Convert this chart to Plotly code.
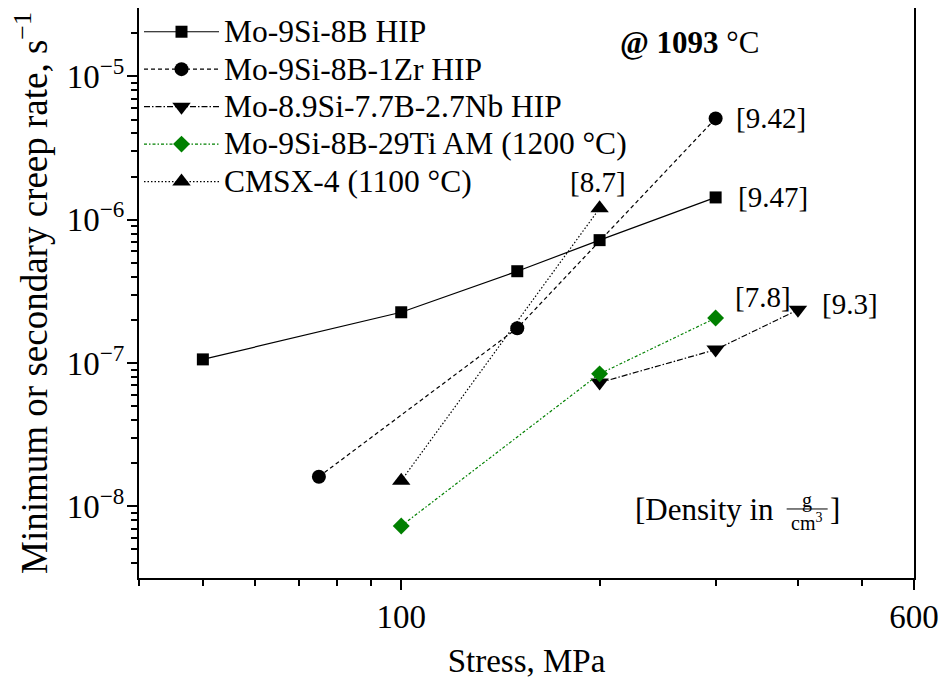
import math
import plotly.graph_objects as go

# ---- data ----
series_names = [
    "Mo-9Si-8B HIP",
    "Mo-9Si-8B-1Zr HIP",
    "Mo-8.9Si-7.7B-2.7Nb HIP",
    "Mo-9Si-8B-29Ti AM (1200 °C)",
    "CMSX-4 (1100 °C)",
]
stress_hip = [50, 100, 150, 200, 300]
rate_hip = [1.06e-7, 2.26e-7, 4.37e-7, 7.2e-7, 1.43e-6]
stress_zr = [75, 150, 300]
rate_zr = [1.61e-8, 1.75e-7, 5.09e-6]
stress_nb = [200, 300, 400]
rate_nb = [7.3e-8, 1.24e-7, 2.35e-7]
stress_ti = [100, 200, 300]
rate_ti = [7.3e-9, 8.4e-8, 2.06e-7]
stress_cmsx = [100, 200]
rate_cmsx = [1.51e-8, 1.2e-6]
densities = ["[9.47]", "[9.42]", "[9.3]", "[7.8]", "[8.7]"]

x_tickvals = [100, 600]
x_ticktext = ["100", "600"]
x_minor = [40, 50, 60, 70, 80, 90, 200, 300, 400, 500]
y_tickvals = [1e-8, 1e-7, 1e-6, 1e-5]
y_ticktext = ["10<sup>−8</sup>", "10<sup>−7</sup>", "10<sup>−6</sup>", "10<sup>−5</sup>"]

FONT = "Liberation Serif"

styles = [
    dict(symbol="square", size=12, color="black", dash="solid"),
    dict(symbol="circle", size=14, color="black", dash="4px,3px"),
    dict(symbol="triangle-down", size=16, color="black", dash="6px,2px,1.5px,2px"),
    dict(symbol="diamond", size=13, color="#008000", dash="3px,2px,1.5px,2px"),
    dict(symbol="triangle-up", size=16, color="black", dash="1.5px,2px"),
]
xs = [stress_hip, stress_zr, stress_nb, stress_ti, stress_cmsx]
ys = [rate_hip, rate_zr, rate_nb, rate_ti, rate_cmsx]

fig = go.Figure()
for i, (name, x, y, st) in enumerate(zip(series_names, xs, ys, styles)):
    fig.add_trace(go.Scatter(
        x=x, y=y, name=f'<span style="font-size:31.5px">{name}</span>',
        mode="lines+markers",
        legendgroup=f"g{i}",
        line=dict(color=st["color"], width=1.2, dash=st["dash"]),
        marker=dict(symbol=st["symbol"], size=st["size"], color=st["color"],
                    line=dict(width=0)),
    ))

# density labels anchored to the last point of each series
label_offsets = [
    dict(xshift=20, yshift=0, xanchor="left"),
    dict(xshift=18, yshift=0, xanchor="left"),
    dict(xshift=22, yshift=6, xanchor="left"),
    dict(xshift=17, yshift=21, xanchor="left"),
    dict(xshift=-2, yshift=26, xanchor="center"),
]
for x, y, txt, off in zip(xs, ys, densities, label_offsets):
    fig.add_annotation(
        x=math.log10(x[-1]), y=math.log10(y[-1]), xref="x", yref="y",
        text=txt, showarrow=False, font=dict(family=FONT, size=29, color="black"),
        xanchor=off["xanchor"], yanchor="middle",
        xshift=off["xshift"], yshift=off["yshift"],
    )

fig.add_annotation(
    x=0.7105, y=0.939, xref="paper", yref="paper",
    text="<b>@ 1093</b> °C", showarrow=False,
    font=dict(family=FONT, size=31, color="black"), xanchor="center", yanchor="middle",
)
# [Density in g/cm^3]
fig.add_annotation(
    x=0.8225, y=0.1196, xref="paper", yref="paper", text="[Density in",
    showarrow=False, font=dict(family=FONT, size=31, color="black"),
    xanchor="right", yanchor="middle",
)
fig.add_annotation(
    x=0.8615, y=0.136, xref="paper", yref="paper", text="g",
    showarrow=False, font=dict(family=FONT, size=20, color="black"),
    xanchor="center", yanchor="middle",
)
fig.add_annotation(
    x=0.8615, y=0.098, xref="paper", yref="paper", text="cm<sup>3</sup>",
    showarrow=False, font=dict(family=FONT, size=20, color="black"),
    xanchor="center", yanchor="middle",
)
fig.add_shape(type="line", xref="paper", yref="paper",
              x0=0.8357, x1=0.8886, y0=0.1211, y1=0.1211,
              line=dict(color="black", width=1))
fig.add_annotation(
    x=0.8895, y=0.1196, xref="paper", yref="paper", text="]",
    showarrow=False, font=dict(family=FONT, size=31, color="black"),
    xanchor="left", yanchor="middle",
)

axis_common = dict(
    type="log", showline=True, linecolor="black", linewidth=2, mirror=True,
    ticks="outside", ticklen=10, tickwidth=2, tickcolor="black",
    showgrid=False, zeroline=False, automargin=False,
    tickfont=dict(family=FONT, size=33, color="black"),
)
fig.update_xaxes(
    **axis_common,
    range=[math.log10(40), math.log10(600)],
    tickmode="array", tickvals=x_tickvals, ticktext=x_ticktext,
    ticklabelstandoff=-2,
    minor=dict(tickmode="array", tickvals=x_minor, ticks="outside",
               ticklen=6, tickwidth=2, tickcolor="black", showgrid=False),
    title=dict(text="Stress, MPa", font=dict(family=FONT, size=33, color="black")),
)
y_minor = [m * 10 ** e for e in range(-9, -4) for m in range(2, 10)
           if -8.5 <= math.log10(m * 10 ** e) <= -4.523]
fig.update_yaxes(
    **axis_common,
    range=[-8.5, -4.523],
    tickmode="array", tickvals=y_tickvals, ticktext=y_ticktext,
    ticklabelstandoff=-4,
    minor=dict(tickmode="array", tickvals=y_minor, ticks="outside",
               ticklen=6, tickwidth=2, tickcolor="black", showgrid=False),
    title=dict(text="Minimum or secondary creep rate, s<sup>−1</sup>",
               font=dict(family=FONT, size=37, color="black")),
)

fig.update_layout(
    width=949, height=677,
    margin=dict(l=131, r=43, t=0, b=107),
    paper_bgcolor="white", plot_bgcolor="white",
    font=dict(family=FONT, size=30, color="black"),
    legend=dict(
        x=0.0, y=1.0, xanchor="left", yanchor="top",
        bgcolor="rgba(0,0,0,0)", borderwidth=0,
        font=dict(family=FONT, size=26.5, color="black"),
        itemwidth=75, tracegroupgap=0, itemsizing="trace",
    ),
    showlegend=True,
)

fig.write_html("out.html")
